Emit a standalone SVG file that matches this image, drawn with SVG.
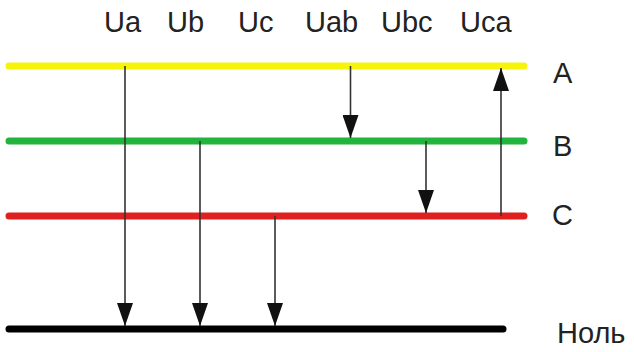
<svg xmlns="http://www.w3.org/2000/svg" width="634" height="352" viewBox="0 0 634 352">
  <style>
    .bus { stroke-width: 7; stroke-linecap: round; fill: none; }
    .lbl { font-family: "Liberation Sans", Arial, sans-serif; font-size: 29px; fill: #222; }
    .vec { stroke: #333; stroke-width: 1.6; fill: none; marker-end: url(#head); }
  </style>
  <defs>
    <marker id="head" markerUnits="userSpaceOnUse" markerWidth="24" markerHeight="16" refX="23" refY="8" orient="auto">
      <path d="M0,0 L23,8 L0,16 z" fill="#111"/>
    </marker>
  </defs>

  <rect width="634" height="352" fill="#fff"/>

  <!-- phase and neutral buses -->
  <g id="bus-A">
    <line class="bus" x1="9" y1="66" x2="524" y2="66" stroke="#f7f40c"/>
    <text class="lbl" x="553" y="83">A</text>
  </g>
  <g id="bus-B">
    <line class="bus" x1="9" y1="141" x2="524" y2="141" stroke="#22b43c"/>
    <text class="lbl" x="553" y="156">B</text>
  </g>
  <g id="bus-C">
    <line class="bus" x1="9" y1="216" x2="524" y2="216" stroke="#e01f1f"/>
    <text class="lbl" x="552" y="225">C</text>
  </g>
  <g id="bus-N">
    <line class="bus" x1="9" y1="329" x2="503" y2="329" stroke="#000"/>
    <text class="lbl" x="557" y="343">Ноль</text>
  </g>

  <!-- voltage labels -->
  <g id="labels">
    <text class="lbl" x="104" y="32">Ua</text>
    <text class="lbl" x="167" y="32">Ub</text>
    <text class="lbl" x="238" y="32">Uc</text>
    <text class="lbl" x="305" y="32">Uab</text>
    <text class="lbl" x="381" y="32">Ubc</text>
    <text class="lbl" x="460" y="32">Uca</text>
  </g>

  <!-- voltage vectors -->
  <g id="connectors">
    <line class="vec" x1="125" y1="66" x2="125" y2="326"/>
    <line class="vec" x1="200" y1="141" x2="200" y2="326"/>
    <line class="vec" x1="275" y1="216" x2="275" y2="326"/>
    <line class="vec" x1="350.5" y1="66" x2="350.5" y2="138"/>
    <line class="vec" x1="426" y1="141" x2="426" y2="213"/>
    <line class="vec" x1="501" y1="216" x2="501" y2="68"/>
  </g>
</svg>
